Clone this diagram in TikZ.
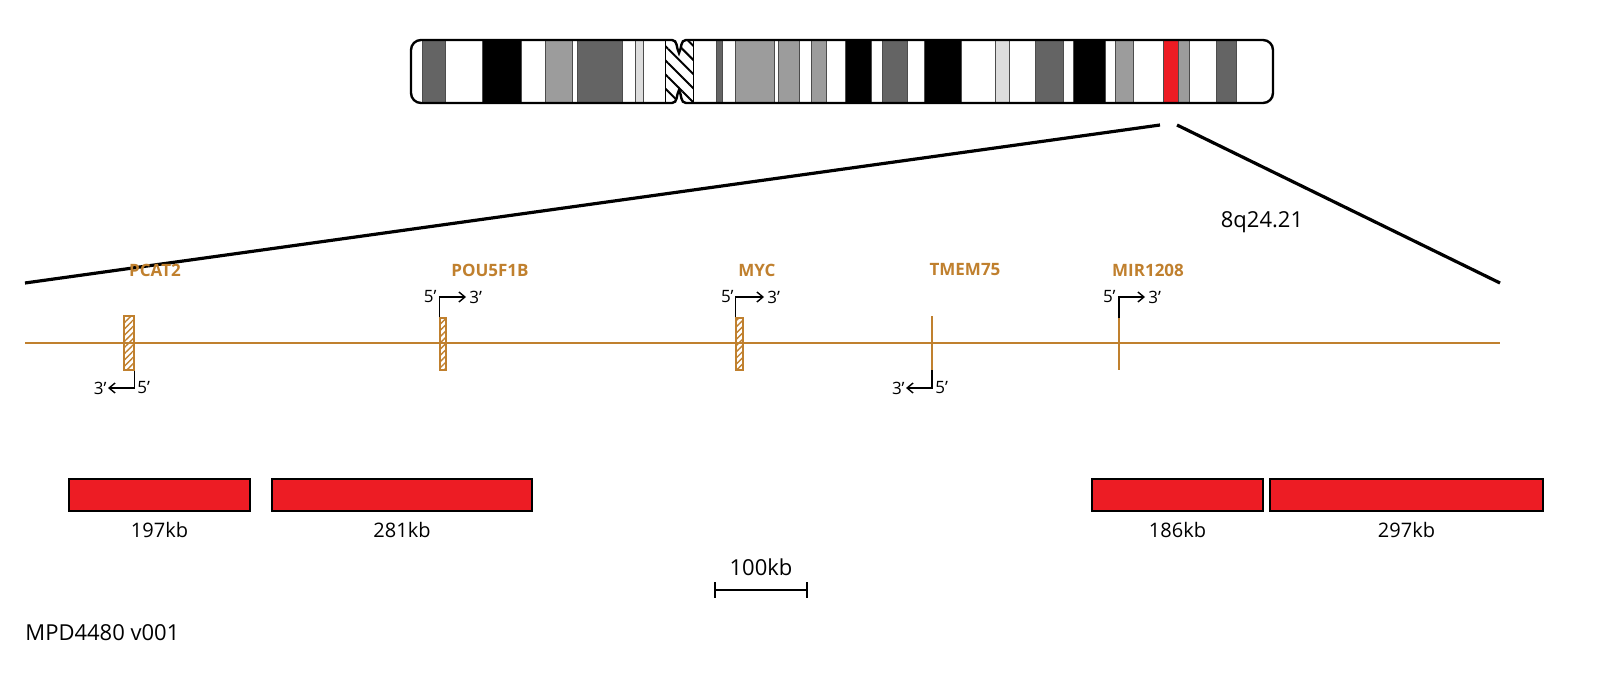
\documentclass[tikz,border=0pt]{standalone}
\usepackage{fontspec}
\setmainfont{Open Sans}
\usetikzlibrary{patterns.meta,arrows.meta}
\definecolor{gene}{HTML}{C0802E}
\definecolor{dk}{HTML}{646464}
\definecolor{gr}{HTML}{9C9C9C}
\definecolor{lt}{HTML}{DDDDDD}
\definecolor{rd}{HTML}{ED1C24}
\newcommand\pq{\char"0027\relax}
\begin{document}
\begin{tikzpicture}[x=0.5pt,y=-0.5pt,
  glabel/.style={text=gene,font=\fontsize{8.5}{9}\selectfont\bfseries},
  small/.style={font=\fontsize{8.5}{10}\selectfont,inner sep=0.5pt},
  kb/.style={font=\fontsize{10}{12}\selectfont},
  redbox/.style={fill=rd,draw=black,line width=1.2pt},
  hgene/.style={draw=gene,line width=0.8pt,pattern={Lines[angle=45,distance=2.2pt,line width=0.7pt]},pattern color=gene},
  sgene/.style={draw=gene,line width=1.3pt},
  tss/.style={line width=0.7pt,-{Straight Barb[length=3pt,width=5pt]}},
  zoomline/.style={line width=1.6pt}]
\useasboundingbox (0,0) rectangle (1600,696);
\def\chrom{(672,40) to[out=0,in=120] (679,53) to[out=60,in=180] (686,40) [rounded corners=5pt]-- (1273,40) -- (1273,103) [sharp corners]-- (686,103) to[out=180,in=-60] (679,90) to[out=-120,in=0] (672,103) [rounded corners=5pt]-- (411,103) -- (411,40) [sharp corners]-- cycle}
\begin{scope}
\clip \chrom;
\fill[white] (405,35) rectangle (1280,110);
\foreach \a/\b/\c in {422/445/dk,482/521/black,545/572/gr,577/622/dk,635/643/lt,716/722/dk,735/774/gr,778/799/gr,811/826/gr,845/871/black,882/907/dk,924/961/black,995/1009/lt,1035/1063/dk,1073/1105/black,1115/1133/gr,1163/1178/rd,1178/1189/gr,1216/1236/dk}
  \fill[\c] (\a,40) rectangle (\b,103);
\foreach \a in {422,445,482,521,545,572,577,622,635,643,716,722,735,774,778,799,811,826,845,871,882,907,924,961,995,1009,1035,1063,1073,1105,1115,1133,1163,1178,1189,1216,1236}
  \draw[black!70,line width=0.4pt] (\a,40) -- (\a,103);
\fill[white] (665,40) rectangle (693,103);
\fill[pattern={Lines[angle=-45,distance=5pt,line width=1pt]},pattern color=black] (665,40) rectangle (693,103);
\draw[line width=0.5pt] (665,40)--(665,103) (693,40)--(693,103);
\end{scope}
\draw[line width=1.2pt] \chrom;
\coordinate (zl) at (1160,125); \coordinate (zr) at (1177,125);
\coordinate (gl) at (25,283); \coordinate (gr2) at (1500,283);
\draw[zoomline] (zl) -- (gl);
\draw[zoomline] (zr) -- (gr2);
\node[kb,font=\fontsize{11}{13}\selectfont] (band) at (1262,222) {8q24.21};
\coordinate (ls) at (25,343); \coordinate (le) at (1500,343);
\draw[gene,line width=1pt] (ls) -- (le);
% genes
\node[hgene,minimum width=5pt,minimum height=27pt,inner sep=0pt] (pcat) at (129,343) {};
\node[hgene,minimum width=3pt,minimum height=26pt,inner sep=0pt] (pou) at (443,344) {};
\node[hgene,minimum width=3.5pt,minimum height=26pt,inner sep=0pt] (myc) at (739.5,344) {};
\coordinate (tm1) at (932,316); \coordinate (tm2) at (932,370);
\draw[sgene] (tm1) -- (tm2);
\coordinate (mi1) at (1119,318); \coordinate (mi2) at (1119,370);
\draw[sgene] (mi1) -- (mi2);
\node[glabel] (lpcat) at (155,270) {PCAT2};
\node[glabel] (lpou) at (490,270) {POU5F1B};
\node[glabel] (lmyc) at (757,270) {MYC};
\node[glabel] (ltm) at (965,270) {TMEM75};
\node[glabel] (lmi) at (1148,270) {MIR1208};
% TSS arrows
\draw[tss] (pcat.south east) |- (108,388);
\node[small,anchor=east] at (108,388) {3\pq};
\node[small,anchor=west] at (136,388) {5\pq};
\draw[tss] (pou.north west) |- (466,297);
\node[small,anchor=east] at (438,297) {5\pq};
\node[small,anchor=west] at (468,297) {3\pq};
\draw[tss] (myc.north west) |- (764,297);
\node[small,anchor=east] at (735,297) {5\pq};
\node[small,anchor=west] at (766,297) {3\pq};
\draw[tss] (tm2) |- (906,388);
\node[small,anchor=east] at (906,388) {3\pq};
\node[small,anchor=west] at (934,388) {5\pq};
\draw[tss] (mi1) |- (1145,297);
\node[small,anchor=east] at (1117,297) {5\pq};
\node[small,anchor=west] at (1147,297) {3\pq};
% red boxes
\foreach \n/\a/\b/\t in {r1/69/250/197kb,r2/272/532/281kb,r3/1092/1263/186kb,r4/1270/1543/297kb}{
  \draw[redbox] (\a,479) rectangle (\b,511);
  \node[kb] (\n) at ({(\a+\b)/2},530) {\t};
}
% scale bar
\coordinate (s1) at (715,590); \coordinate (s2) at (807,590);
\draw[line width=1.3pt] (s1) -- (s2) (715,582) -- (715,598) (807,582) -- (807,598);
\node[kb,font=\fontsize{11}{13}\selectfont] (sb) at (761,567) {100kb};
\node[kb,font=\fontsize{11}{13}\selectfont,anchor=west,inner sep=0pt] (id) at (25,633) {MPD4480 v001};
\end{tikzpicture}
\end{document}
